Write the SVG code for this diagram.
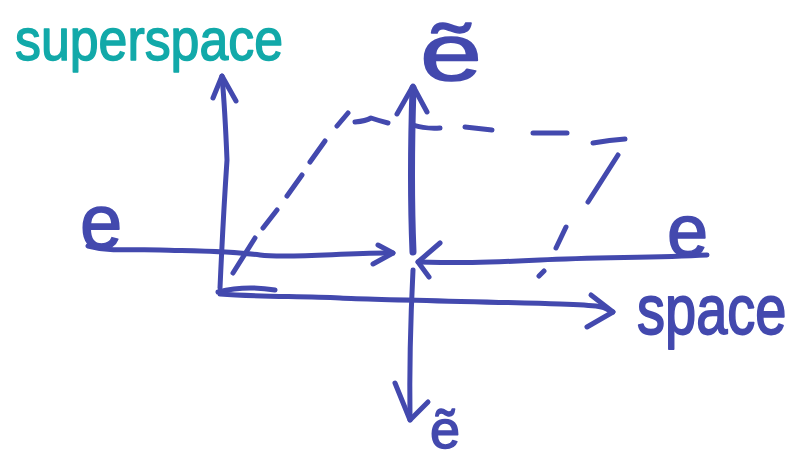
<svg xmlns="http://www.w3.org/2000/svg" width="790" height="461" viewBox="0 0 790 461">
<style>
.ink{fill:none;stroke:#4349AE;stroke-width:5;stroke-linecap:round;stroke-linejoin:round}
.thick{stroke-width:7}
.lbl{font-family:"Liberation Sans","DejaVu Sans",sans-serif;fill:#4349AE;stroke:#4349AE;stroke-width:1.5;stroke-linejoin:round}
.teal{fill:#12A9A9;stroke:#12A9A9}
</style>
<rect width="790" height="461" fill="#ffffff"/>
<g id="connectors">
  <g id="superspace-axis">
    <path class="ink" d="M220,288 Q223,220 227,160 Q225,110 222,76"/>
    <path class="ink" d="M213,98 L222,76 L236,101"/>
  </g>
  <g id="etilde-axis">
    <path class="ink thick" d="M413,252 Q410,180 413,88"/>
    <path class="ink" d="M397,114 L413,86 L427,112"/>
    <path class="ink" d="M413,270 Q409,350 410,420"/>
    <path class="ink" d="M395,383 L410,420 L428,402"/>
  </g>
  <g id="e-left-arrow">
    <path class="ink" d="M88,246 C110,252 130,249 160,250 S230,251 260,255 S350,252 393,253"/>
    <path class="ink" d="M378,245 L393,253 L373,264"/>
  </g>
  <g id="e-right-arrow">
    <path class="ink" d="M707,255 C650,258 600,257 540,260 S460,263 418,262"/>
    <path class="ink" d="M440,243 L418,262 L429,277"/>
  </g>
  <g id="space-axis">
    <path class="ink" d="M218,292 Q245,285 275,290"/>
    <path class="ink" d="M220,294 C260,297 300,296 340,298 S500,302 560,304 S600,309 613,312"/>
    <path class="ink" d="M591,295 L613,312 L587,327"/>
  </g>
  <g id="dashed-parallelogram">
    <path class="ink" d="M233,273 L255,238 M263,228 L277,210 M287,196 L302,175 M310,162 L325,141 M337,126 L348,113"/>
    <path class="ink" d="M355,122 Q366,121 371,118 Q380,121 388,123"/>
    <path class="ink" d="M413,125 Q425,129 440,128 M465,127 L492,130 M533,133 L567,133 M593,143 Q610,140 625,139"/>
    <path class="ink" d="M618,155 L588,202 M566,227 L556,248 M544,271 L539,276"/>
  </g>
</g>
<g id="label-superspace"><text class="lbl teal" x="15" y="60" font-size="60" textLength="268" lengthAdjust="spacingAndGlyphs">superspace</text></g>
<g id="label-space" transform="translate(637,334) scale(1,1.25)"><text class="lbl" x="0" y="0" font-size="56">space</text></g>
<g id="label-e-left"><text class="lbl" x="80" y="248" font-size="76">e</text></g>
<g id="label-e-right"><text class="lbl" x="667" y="256" font-size="74">e</text></g>
<g id="label-etilde-top"><text class="lbl" x="420" y="80" font-size="80" textLength="62" lengthAdjust="spacingAndGlyphs">ẽ</text></g>
<g id="label-etilde-bottom"><text class="lbl" x="430" y="448" font-size="54">ẽ</text></g>
</svg>
